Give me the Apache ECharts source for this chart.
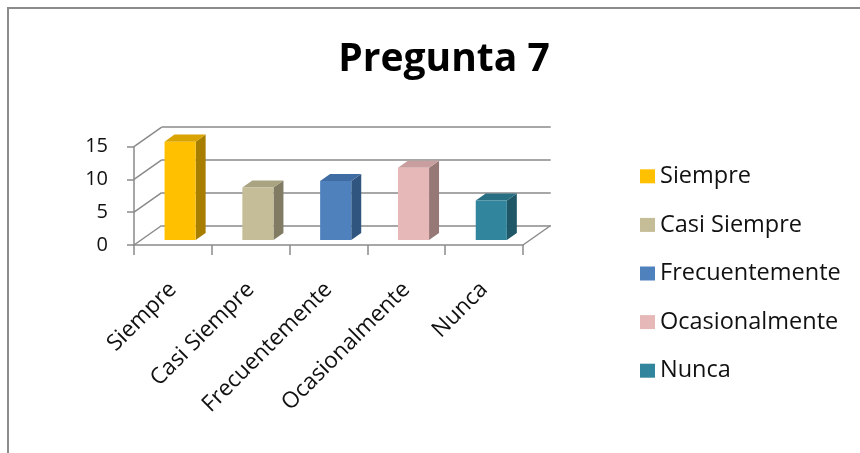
<!DOCTYPE html>
<html>
<head>
<meta charset="utf-8">
<script src="https://cdn.jsdelivr.net/npm/echarts@6/dist/echarts.min.js"></script>
<style>
  html, body { margin: 0; padding: 0; background: #ffffff; }
  #chart { width: 860px; height: 453px; }
</style>
</head>
<body>
<div id="chart"></div>
<script>
// Survey answers for question 7
const categories = ['Siempre', 'Casi Siempre', 'Frecuentemente', 'Ocasionalmente', 'Nunca'];
const values = [15, 8, 9, 11, 6];
const yTicks = [0, 5, 10, 15];

// Face colours of each column: front, top, side
const frontColors = ['#FFC000', '#C4BD97', '#4F81BD', '#E6B9B8', '#31859C'];
const topColors   = ['#D9A400', '#A9A381', '#3F6DA3', '#C89F9E', '#286F83'];
const sideColors  = ['#A87E00', '#807B62', '#30557F', '#967877', '#1F5767'];

// Oblique projection of the plot box
const DEPTH_X = 27.7;
const DEPTH_Y = -19.5;
const BAR_FRONT = 0.26;   // where the column starts inside the depth
const BAR_DEPTH = 0.36;   // column depth as a share of the box depth
const BAR_WIDTH = 0.4;    // share of the category band

const FONT = '"Open Sans", "Noto Sans", sans-serif';
const LINE = '#8a8a8a';

function columnRenderer(i) {
  return function (params, api) {
    const base = api.coord([api.value(0), 0]);
    const head = api.coord([api.value(0), api.value(1)]);
    const band = api.size([1, 0])[0];
    const w = band * BAR_WIDTH;
    const ox = DEPTH_X * BAR_FRONT, oy = DEPTH_Y * BAR_FRONT;
    const dx = DEPTH_X * BAR_DEPTH, dy = DEPTH_Y * BAR_DEPTH;
    const xl = base[0] + ox - w / 2, xr = xl + w;
    const yb = base[1] + oy, yt = head[1] + oy;
    return {
      type: 'group',
      children: [
        { type: 'polygon', shape: { points: [[xr, yb], [xr, yt], [xr + dx, yt + dy], [xr + dx, yb + dy]] },
          style: { fill: sideColors[i] } },
        { type: 'polygon', shape: { points: [[xl, yt], [xr, yt], [xr + dx, yt + dy], [xl + dx, yt + dy]] },
          style: { fill: topColors[i] } },
        { type: 'rect', shape: { x: xl, y: yt, width: w, height: yb - yt },
          style: { fill: frontColors[i] } }
      ]
    };
  };
}

// Left wall diagonals at every value tick, plus the right edge of the floor
function wallRenderer(params, api) {
  const cs = params.coordSys;
  const p = api.coord([0, api.value(1)]);
  const children = [{
    type: 'line',
    shape: { x1: cs.x, y1: p[1], x2: cs.x + DEPTH_X, y2: p[1] + DEPTH_Y },
    style: { stroke: LINE, lineWidth: 1.5 }
  }];
  if (api.value(1) === 0) {
    children.push({
      type: 'line',
      shape: { x1: cs.x + cs.width, y1: p[1], x2: cs.x + cs.width + DEPTH_X, y2: p[1] + DEPTH_Y },
      style: { stroke: LINE, lineWidth: 1.5 }
    });
  }
  return { type: 'group', children: children };
}

const chart = echarts.init(document.getElementById('chart'), null, { renderer: 'canvas' });

const series = categories.map(function (name, i) {
  return {
    type: 'custom',
    name: name,
    xAxisIndex: 0,
    yAxisIndex: 0,
    z: 5,
    itemStyle: { color: frontColors[i] },
    encode: { x: 0, y: 1 },
    data: [[i, values[i]]],
    renderItem: columnRenderer(i)
  };
});
series.push({
  type: 'custom',
  name: 'walls',
  xAxisIndex: 0,
  yAxisIndex: 0,
  z: 1,
  silent: true,
  encode: { x: 0, y: 1 },
  data: yTicks.map(function (v) { return [0, v]; }),
  renderItem: wallRenderer
});

chart.setOption({
  animation: false,
  backgroundColor: '#ffffff',
  graphic: [{
    type: 'rect',
    shape: { x: 8, y: 8, width: 900, height: 500 },
    style: { fill: 'none', stroke: '#8c8c8c', lineWidth: 2 },
    z: 0
  }],
  title: {
    text: 'Pregunta 7',
    left: 439,
    top: 35,
    textAlign: 'center',
    textStyle: { fontFamily: FONT, fontWeight: 'bold', fontSize: 39, color: '#000000' }
  },
  legend: {
    data: categories,
    orient: 'vertical',
    left: 640,
    top: 164,
    padding: 0,
    itemWidth: 15,
    itemHeight: 14,
    itemGap: 24,
    icon: 'rect',
    textStyle: { fontFamily: FONT, fontSize: 23.5, color: '#111111', lineHeight: 24.6 }
  },
  grid: [
    { left: 134, right: 337, top: 146.7, bottom: 208, containLabel: false },
    { left: 161.7, right: 309.3, top: 127.2, bottom: 227.5, containLabel: false }
  ],
  xAxis: [{
    type: 'category',
    gridIndex: 0,
    data: categories,
    axisLine: { show: true, lineStyle: { color: LINE, width: 1.5 } },
    axisTick: { show: true, length: 10, interval: 0, lineStyle: { color: LINE, width: 1.5 } },
    axisLabel: {
      interval: 0, rotate: 45, margin: 41,
      fontFamily: FONT, fontSize: 22.5, color: '#111111'
    },
    splitLine: { show: false }
  }, {
    type: 'category',
    gridIndex: 1,
    data: categories,
    show: false
  }],
  yAxis: [{
    type: 'value',
    gridIndex: 0,
    min: 0, max: 15, interval: 5,
    axisLine: { show: true, lineStyle: { color: LINE, width: 1.5 } },
    axisTick: { show: true, length: 7, lineStyle: { color: LINE, width: 1.5 } },
    axisLabel: { margin: 26, fontFamily: FONT, fontSize: 20, color: '#111111' },
    splitLine: { show: false }
  }, {
    type: 'value',
    gridIndex: 1,
    min: 0, max: 15, interval: 5,
    axisLine: { show: false },
    axisTick: { show: false },
    axisLabel: { show: false },
    splitLine: { show: true, lineStyle: { color: LINE, width: 1.5 } }
  }],
  series: series
});
</script>
</body>
</html>
